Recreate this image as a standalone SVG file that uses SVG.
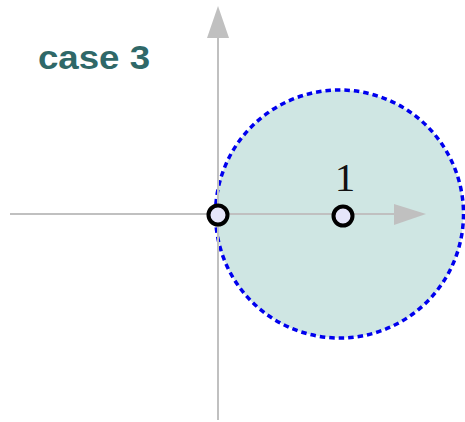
<svg xmlns="http://www.w3.org/2000/svg" width="465" height="422" viewBox="0 0 465 422">
<style>
.axis{stroke:#c0c0c0;stroke-width:2;fill:none}
.head{fill:#c0c0c0}
.pt{fill:#e6e6fa;stroke:#000;stroke-width:4}
</style>
<rect width="465" height="422" fill="#fff"/>
<g id="region">
<circle cx="339.5" cy="214" r="124" fill="#cfe6e3" stroke="#0000ee" stroke-width="3.5" stroke-dasharray="5.5 4"/>
</g>
<g id="connectors">
<line class="axis" x1="10" y1="214" x2="396" y2="214"/>
<polygon class="head" points="426,214 394,204 394,225"/>
<line class="axis" x1="218" y1="420" x2="218" y2="36"/>
<polygon class="head" points="218,6 207,38 229,38"/>
</g>
<g id="title"><text x="38" y="69" font-family="Liberation Sans, Arial, sans-serif" font-weight="bold" font-size="34" fill="#2f6868" textLength="112" lengthAdjust="spacingAndGlyphs">case 3</text></g>
<g id="origin"><circle class="pt" cx="218" cy="215" r="9.5"/></g>
<g id="one"><circle class="pt" cx="343" cy="216" r="9.5"/>
<text x="345" y="191" text-anchor="middle" font-family="Liberation Serif, serif" font-size="41" fill="#111">1</text></g>
</svg>
